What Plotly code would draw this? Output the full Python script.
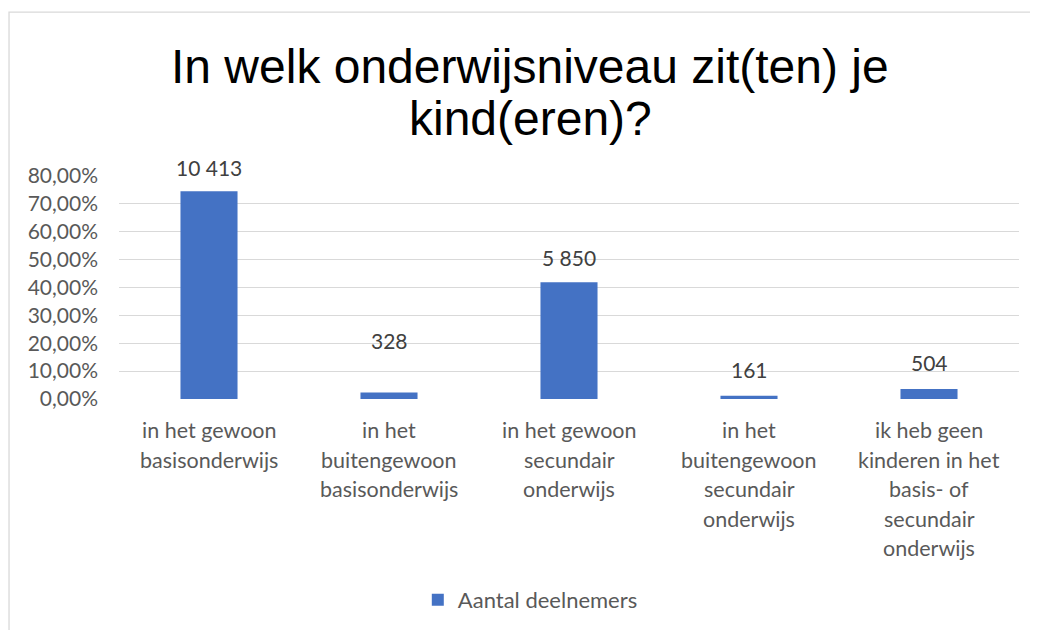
import plotly.graph_objects as go

categories = [
    "in het gewoon<br>basisonderwijs",
    "in het<br>buitengewoon<br>basisonderwijs",
    "in het gewoon<br>secundair<br>onderwijs",
    "in het<br>buitengewoon<br>secundair<br>onderwijs",
    "ik heb geen<br>kinderen in het<br>basis- of<br>secundair<br>onderwijs",
]
cat_keys = ["c1", "c2", "c3", "c4", "c5"]
shares = [0.745, 0.0235, 0.419, 0.0115, 0.036]
counts = ["10 413", "328", "5 850", "161", "504"]
y_ticks = [0, 0.1, 0.2, 0.3, 0.4, 0.5, 0.6, 0.7, 0.8]
y_tick_text = ["0,00%", "10,00%", "20,00%", "30,00%", "40,00%", "50,00%", "60,00%", "70,00%", "80,00%"]
series_name = "Aantal deelnemers"
title_lines = ["In welk onderwijsniveau zit(ten) je", "kind(eren)?"]

# styling
label_shift = [24, 52, 25, 26, 26]
BLUE = "#4472C4"
GRAY = "#595959"
FONT = "Lato"

fig = go.Figure()
fig.add_trace(go.Bar(
    x=cat_keys, y=shares, name=series_name,
    marker=dict(color=BLUE, line=dict(width=0)),
    width=0.317, showlegend=True,
))

ann = []
for i, (k, v, t) in enumerate(zip(cat_keys, shares, counts)):
    ann.append(dict(x=k, y=v, xref="x", yref="y", text=t, showarrow=False,
                    yanchor="middle", yshift=label_shift[i],
                    font=dict(family=FONT, size=21, color="#404040")))
for k, lab in zip(cat_keys, categories):
    for j, line in enumerate(lab.split("<br>")):
        ann.append(dict(x=k, y=0, xref="x", yref="y", text=line, showarrow=False,
                        yanchor="middle", yshift=-31 - 29.5 * j,
                        font=dict(family=FONT, size=21.5, color=GRAY)))
title_y = [1.493, 1.26]
for line, ty in zip(title_lines, title_y):
    ann.append(dict(x=0.4567, y=ty, xref="paper", yref="paper", text=line,
                    showarrow=False, xanchor="center", yanchor="middle",
                    font=dict(family="Liberation Sans", size=48, color="#000000")))

fig.update_layout(
    width=1030, height=622,
    margin=dict(l=111, r=19, t=168, b=231, autoexpand=False),
    paper_bgcolor="white", plot_bgcolor="white",
    annotations=ann,
    bargap=0.683,
    xaxis=dict(type="category", categoryorder="array", categoryarray=cat_keys,
               showticklabels=False, showgrid=False, zeroline=False,
               showline=False, range=[-0.5, 4.5]),
    yaxis=dict(range=[0, 0.8], tickvals=y_ticks, ticktext=y_tick_text,
               showgrid=True, gridcolor="#D9D9D9", gridwidth=1.3,
               zeroline=False, showline=False, ticks="",
               ticklabelstandoff=20,
               tickfont=dict(family=FONT, size=21, color=GRAY)),
    legend=dict(orientation="h", x=0.332, y=-0.901, xanchor="left", yanchor="middle",
                font=dict(family=FONT, size=22, color=GRAY),
                itemwidth=30, bgcolor="rgba(0,0,0,0)"),
    shapes=[dict(type="rect", xref="paper", yref="paper",
                 x0=-0.1222, x1=1.1, y0=-1.2, y1=1.735,
                 line=dict(color="#D9D9D9", width=1.3), fillcolor="rgba(0,0,0,0)",
                 layer="below")],
)

fig.write_html("out.html")
